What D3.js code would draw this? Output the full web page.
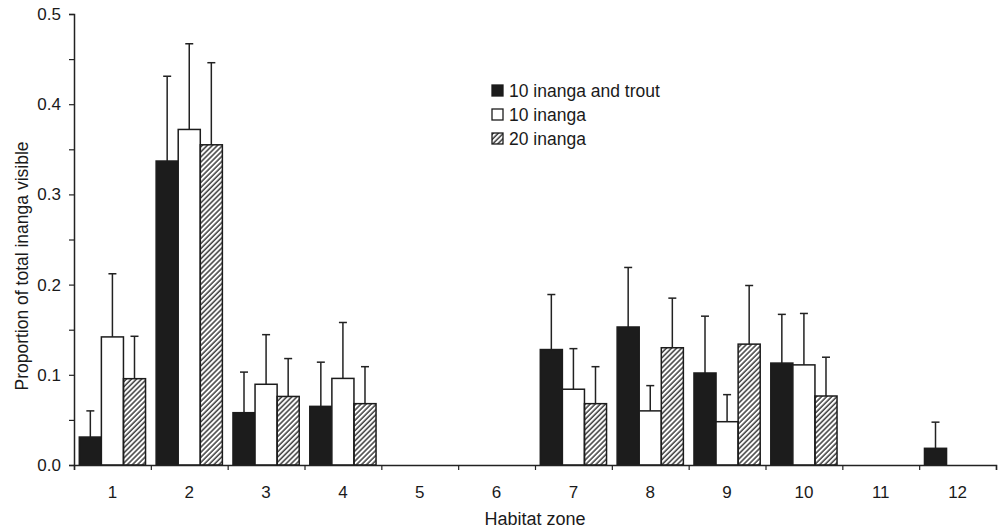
<!DOCTYPE html>
<html>
<head>
<meta charset="utf-8">
<script src="https://cdn.jsdelivr.net/npm/d3@7"></script>
<style>
  body { margin: 0; background: #fff; }
  svg text { font-family: "Liberation Sans", Arial, sans-serif; fill: #1a1a1a; }
</style>
</head>
<body>
<svg id="chart" width="998" height="530"></svg>
<script>
let zones = ['1','2','3','4','5','6','7','8','9','10','11','12']
let seriesNames = ['10 inanga and trout', '10 inanga', '20 inanga']

// means per habitat zone
let troutMean  = [0.031, 0.337, 0.058, 0.065, 0, 0, 0.128, 0.153, 0.102, 0.113, 0, 0.0185]
let inanga10Mean = [0.142, 0.372, 0.0895, 0.096, 0, 0, 0.084, 0.060, 0.048, 0.111, 0, 0]
let inanga20Mean = [0.0957, 0.355, 0.076, 0.068, 0, 0, 0.068, 0.130, 0.134, 0.0765, 0, 0]

// standard errors (drawn upward only)
let troutSE  = [0.029, 0.094, 0.045, 0.049, 0, 0, 0.061, 0.066, 0.063, 0.054, 0, 0.029]
let inanga10SE = [0.070, 0.095, 0.055, 0.062, 0, 0, 0.045, 0.028, 0.030, 0.057, 0, 0]
let inanga20SE = [0.047, 0.091, 0.042, 0.041, 0, 0, 0.041, 0.055, 0.065, 0.043, 0, 0]

let yTicks = [0, 0.05, 0.1, 0.15, 0.2, 0.25, 0.3, 0.35, 0.4, 0.45, 0.5]

let means = [troutMean, inanga10Mean, inanga20Mean]
let ses = [troutSE, inanga10SE, inanga20SE]

let svg = d3.select('#chart')
let mLeft = 74, mRight = 996, mTop = 14, mBottom = 465

let defs = svg.append('defs')
defs.append('pattern')
    .attr('id', 'hatch')
    .attr('patternUnits', 'userSpaceOnUse')
    .attr('width', 3.6)
    .attr('height', 3.6)
    .attr('patternTransform', 'rotate(45)')
  .append('line')
    .attr('x1', 1).attr('y1', 0)
    .attr('x2', 1).attr('y2', 3.6)
    .attr('stroke', '#1e1e1e')
    .attr('stroke-width', 1.3)

let fills = ['#1c1c1c', '#fff', 'url(#hatch)']

let x0 = d3.scaleBand()
    .domain(zones)
    .range([mLeft, mRight])
    .padding(0)

let x1 = d3.scaleBand()
    .domain(seriesNames)
    .range([0, x0.bandwidth()])
    .paddingInner(0)
    .paddingOuter(0.24)

let y = d3.scaleLinear()
    .domain([0, 0.5])
    .range([mBottom, mTop])

let rows = []
zones.forEach((z, i) => {
    seriesNames.forEach((s, j) => {
        rows.push({zone: z, series: s, idx: j, mean: means[j][i], se: ses[j][i]})
    })
})
let drawn = rows.filter(d => d.mean > 0)

// error bars (behind bars)
let err = svg.append('g').attr('stroke', '#222').attr('stroke-width', 1.5)
err.selectAll('.stem')
    .data(drawn)
    .enter().append('line')
    .attr('x1', d => x0(d.zone) + x1(d.series) + x1.bandwidth() / 2)
    .attr('x2', d => x0(d.zone) + x1(d.series) + x1.bandwidth() / 2)
    .attr('y1', d => y(d.mean))
    .attr('y2', d => y(d.mean + d.se))
err.selectAll('.cap')
    .data(drawn)
    .enter().append('line')
    .attr('x1', d => x0(d.zone) + x1(d.series) + x1.bandwidth() / 2 - 4)
    .attr('x2', d => x0(d.zone) + x1(d.series) + x1.bandwidth() / 2 + 4)
    .attr('y1', d => y(d.mean + d.se))
    .attr('y2', d => y(d.mean + d.se))

svg.append('g').selectAll('rect')
    .data(drawn)
    .enter().append('rect')
    .attr('x', d => x0(d.zone) + x1(d.series))
    .attr('width', x1.bandwidth())
    .attr('y', d => y(d.mean))
    .attr('height', d => y(0) - y(d.mean))
    .attr('fill', d => fills[d.idx])
    .attr('stroke', '#1c1c1c')
    .attr('stroke-width', 1.5)

// y axis
let yAxis = svg.append('g')
    .attr('transform', `translate(${mLeft},0)`)
    .call(d3.axisLeft(y)
        .tickValues(yTicks)
        .tickSize(5)
        .tickPadding(8)
        .tickFormat(d => Math.round(d * 100) % 10 === 0 ? d3.format('.1f')(d) : ''))
yAxis.select('.domain').attr('stroke', '#222').attr('stroke-width', 1.5)
yAxis.selectAll('.tick line').attr('stroke', '#222').attr('stroke-width', 1.2)
yAxis.selectAll('text').style('font-size', '17px').attr('fill', '#1a1a1a')

// x axis: boundary ticks and centred labels
let xb = d3.scaleLinear().domain([0, zones.length]).range([mLeft, mRight])
let xAxis = svg.append('g')
    .attr('transform', `translate(0,${mBottom})`)
    .call(d3.axisBottom(xb).tickValues(d3.range(zones.length + 1)).tickSize(5).tickFormat(''))
xAxis.select('.domain').attr('stroke', '#222').attr('stroke-width', 1.5)
xAxis.selectAll('.tick line').attr('stroke', '#222').attr('stroke-width', 1.2)

let xLabels = svg.append('g')
    .attr('transform', `translate(0,${mBottom})`)
    .call(d3.axisBottom(x0).tickSize(0).tickPadding(21))
xLabels.select('.domain').remove()
xLabels.selectAll('text').style('font-size', '17px').attr('fill', '#1a1a1a')

svg.append('text')
    .attr('x', (mLeft + mRight) / 2)
    .attr('y', 525)
    .attr('text-anchor', 'middle')
    .style('font-size', '18px')
    .text('Habitat zone')

svg.append('text')
    .attr('transform', 'translate(28,266) rotate(-90)')
    .attr('text-anchor', 'middle')
    .style('font-size', '17.5px')
    .text('Proportion of total inanga visible')

// legend
let legend = svg.append('g')
    .attr('transform', 'translate(492,85)')
let item = legend.selectAll('.item')
    .data(seriesNames)
    .enter().append('g')
    .attr('transform', (d, i) => `translate(0,${i * 24})`)
item.append('rect')
    .attr('width', 11)
    .attr('height', 11)
    .attr('fill', (d, i) => fills[i])
    .attr('stroke', '#1c1c1c')
    .attr('stroke-width', 1.3)
item.append('text')
    .attr('x', 17)
    .attr('y', 11.5)
    .style('font-size', '17.5px')
    .text(d => d)
</script>
</body>
</html>
